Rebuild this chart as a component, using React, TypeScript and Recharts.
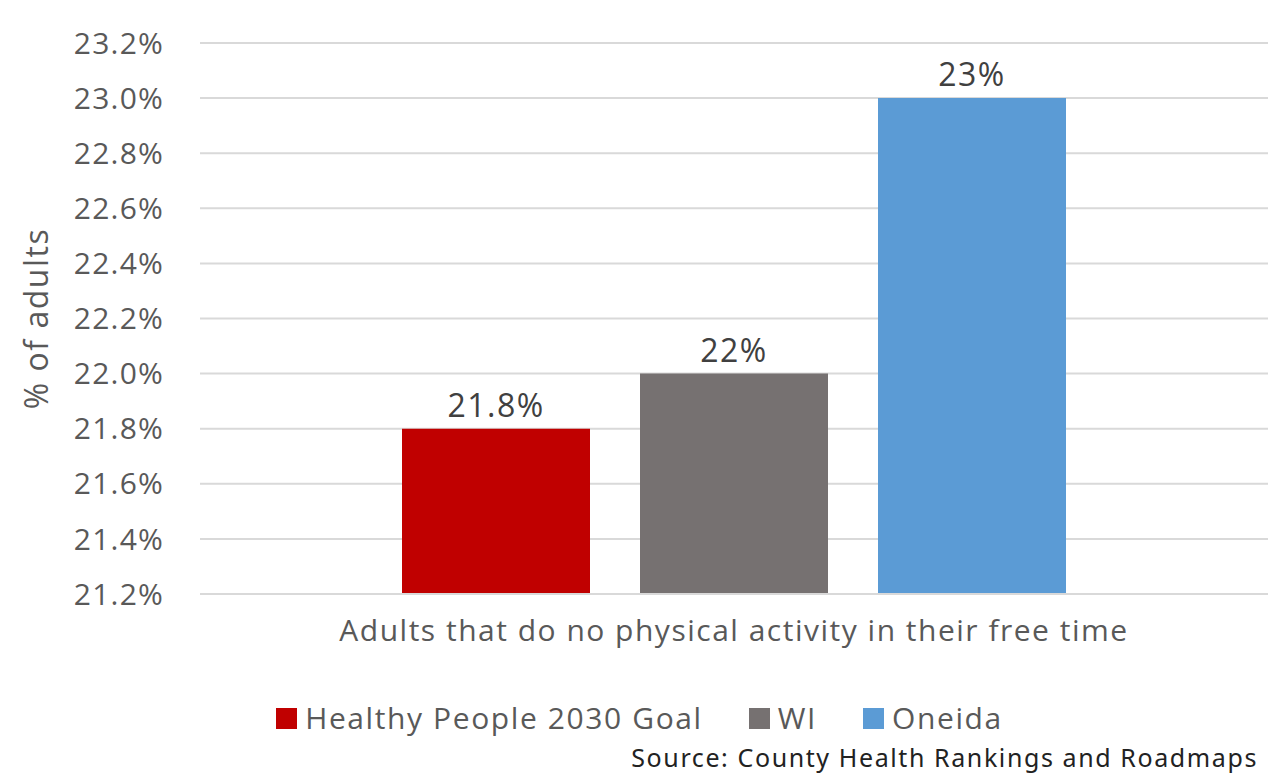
import React from 'react';
import {
  BarChart, Bar, XAxis, YAxis, CartesianGrid, Legend, LabelList
} from 'recharts';

// Values
const categories = ['Adults that do no physical activity in their free time'];
const seriesNames = ['Healthy People 2030 Goal', 'WI', 'Oneida'];
const seriesKeys = ['goal', 'wi', 'oneida'];
const goalValues = [21.8];
const wiValues = [22];
const oneidaValues = [23];
const yTicks = [21.2, 21.4, 21.6, 21.8, 22.0, 22.2, 22.4, 22.6, 22.8, 23.0, 23.2];

const COLORS = ['#C00000', '#767171', '#5B9BD5'];
const TEXT = '#595959';
const FONT = '"Open Sans", "Noto Sans", sans-serif';

const data = categories.map((name, i) => ({
  name,
  goal: goalValues[i],
  wi: wiValues[i],
  oneida: oneidaValues[i],
}));

const renderLegend = () => (
  <div style={{ display: 'flex', justifyContent: 'center', alignItems: 'center', gap: 46, fontFamily: FONT, fontSize: 30, lineHeight: '30px', letterSpacing: 1.6, color: TEXT, paddingLeft: 10 }}>
    {seriesNames.map((n, i) => (
      <div key={n} style={{ display: 'flex', alignItems: 'center' }}>
        <span style={{ width: 21, height: 21, background: COLORS[i], marginRight: 8, display: 'inline-block' }}></span>
        {n}
      </div>
    ))}
  </div>
);

const YLabel = ({ viewBox }: any) => {
  const cx = 35;
  const cy = viewBox.y + viewBox.height / 2;
  return (
    <text x={cx} y={cy} textAnchor="middle" dominantBaseline="central" fill={TEXT}
      fontSize={32} fontFamily={FONT} style={{ letterSpacing: 1.5 }} transform={`rotate(-90 ${cx} ${cy})`}>
      % of adults
    </text>
  );
};

export default function App() {
  return (
    <div style={{ position: 'absolute', left: 0, top: 0, width: 1269, height: 775, overflow: 'hidden', background: '#fff' }}>
      <BarChart
        width={1269}
        height={775}
        data={data}
        margin={{ top: 43, right: 1, bottom: 101, left: 0 }}
        barSize={188}
        barGap={50}
      >
        <CartesianGrid vertical={false} stroke="#d9d9d9" strokeWidth={2} />
        <XAxis
          dataKey="name"
          height={80}
          axisLine={{ stroke: '#d9d9d9', strokeWidth: 2 }}
          tickLine={false}
          tickSize={0}
          tickMargin={26}
          tick={{ fill: TEXT, fontSize: 30, fontFamily: FONT, style: { letterSpacing: 1.5 } } as any}
        />
        <YAxis
          width={200}
          domain={[21.2, 23.2]}
          ticks={yTicks}
          allowDataOverflow
          axisLine={false}
          tickLine={false}
          tickSize={0}
          tickMargin={36}
          tickFormatter={(v: number) => `${v.toFixed(1)}%`}
          tick={{ fill: TEXT, fontSize: 30, fontFamily: FONT, style: { letterSpacing: 1.2 } } as any}
          label={<YLabel />}
        />
        <Legend
          layout="horizontal"
          verticalAlign="middle"
          align="center"
          content={renderLegend}
          wrapperStyle={{ top: 703, left: 0, width: 1269 }}
        />
        {seriesKeys.map((k, i) => (
          <Bar key={k} dataKey={k} name={seriesNames[i]} fill={COLORS[i]} isAnimationActive={false}>
            <LabelList
              dataKey={k}
              position="top"
              offset={12}
              formatter={(v: any) => `${v}%`}
              style={{ fill: '#404040', fontSize: 32, fontFamily: FONT, letterSpacing: 1.5 }}
            />
          </Bar>
        ))}
      </BarChart>
      <div style={{ position: 'absolute', right: 11, top: 743, fontFamily: '"Noto Sans", sans-serif', fontSize: 25, letterSpacing: 1.6, color: '#222', whiteSpace: 'nowrap', lineHeight: '28px' }}>
        Source: County Health Rankings and Roadmaps
      </div>
    </div>
  );
}
